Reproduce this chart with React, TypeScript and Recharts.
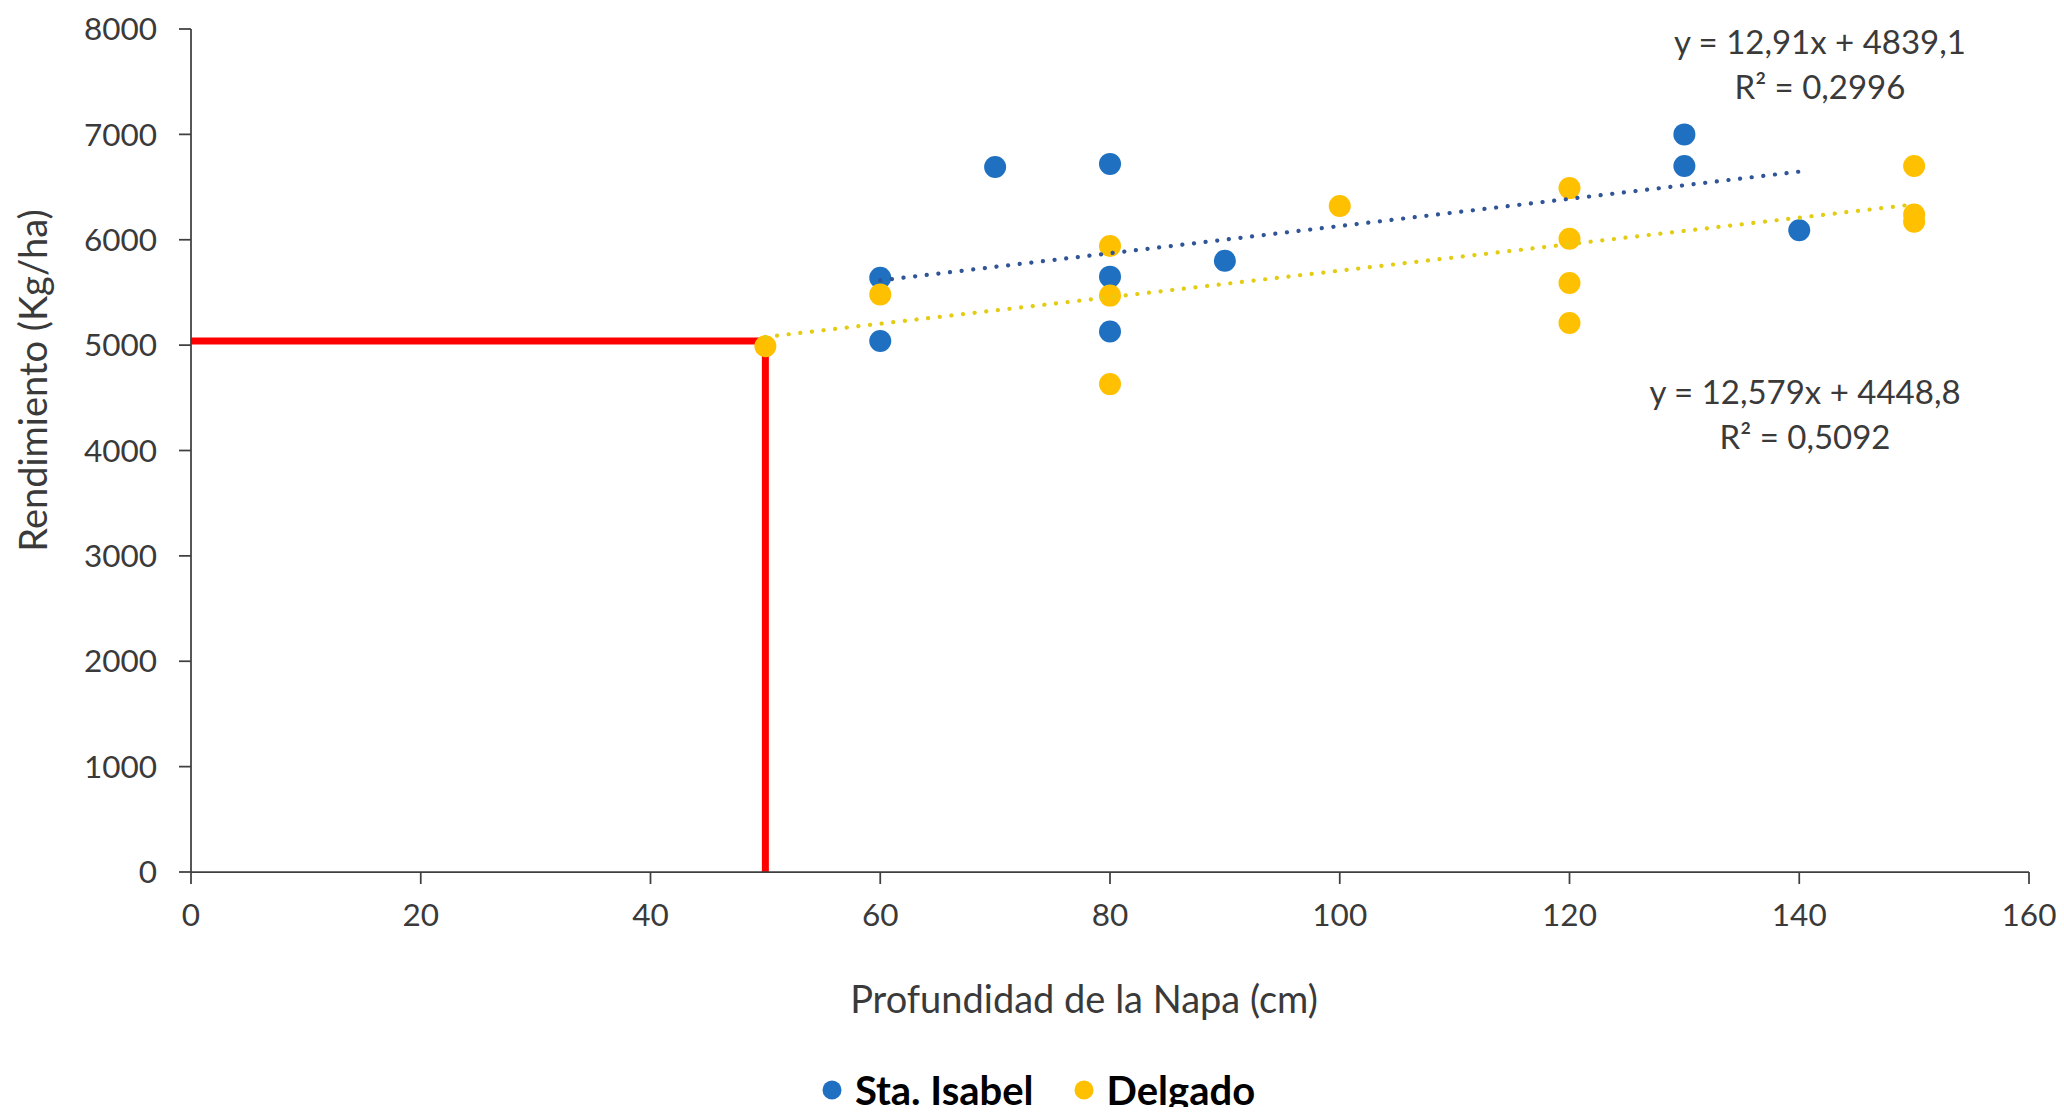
import React from "react";
import {
  ScatterChart,
  Scatter,
  XAxis,
  YAxis,
  ReferenceLine,
  ReferenceDot,
  Legend,
} from "recharts";

// Profundidad de la napa (cm) vs rendimiento (kg/ha), por sitio
const isabelDepth = [60, 60, 70, 80, 80, 80, 90, 130, 130, 140];
const isabelYield = [5640, 5040, 6690, 6720, 5650, 5130, 5800, 7000, 6700, 6090];

const delgadoDepth = [50, 60, 80, 80, 80, 100, 120, 120, 120, 120, 150, 150, 150];
const delgadoYield = [4990, 5480, 5940, 5470, 4630, 6320, 6490, 6010, 5590, 5210, 6700, 6240, 6170];

// tendencias lineales (pendiente, ordenada, R²) y su rango en x
const isabelTrend = { slope: 12.91, intercept: 4839.1, r2: 0.2996, from: 60, to: 140 };
const delgadoTrend = { slope: 12.579, intercept: 4448.8, r2: 0.5092, from: 50, to: 150 };

// lectura marcada en rojo: napa a 50 cm
const markDepth = 50;
const markYield = 5040;

const xTicks = [0, 20, 40, 60, 80, 100, 120, 140, 160];
const yTicks = [0, 1000, 2000, 3000, 4000, 5000, 6000, 7000, 8000];

const seriesNames = ["Sta. Isabel", "Delgado"];

const BLUE = "#1F70C1";
const GOLD = "#FFC000";
const FONT = "Lato, 'Open Sans', sans-serif";
const INK = "#3a3a3a";

const toPoints = (xs: number[], ys: number[]) => xs.map((x, i) => ({ x, y: ys[i] }));

const trendPoints = (t: typeof isabelTrend) => [
  { x: t.from, y: t.slope * t.from + t.intercept },
  { x: t.to, y: t.slope * t.to + t.intercept },
];

const fmt = (n: number) => String(n).replace(".", ",");
const trendLines = (t: typeof isabelTrend) => [
  `y = ${fmt(t.slope)}x + ${fmt(t.intercept)}`,
  `R² = ${fmt(t.r2)}`,
];

const dot = (color: string) => (p: any) => <circle cx={p.cx} cy={p.cy} r={11} fill={color} />;

const TrendNote = ({ viewBox, lines }: any) => {
  const cx = viewBox.x + viewBox.width / 2;
  const cy = viewBox.y + viewBox.height / 2;
  return (
    <text textAnchor="middle" fill={INK} fontFamily={FONT} fontSize={33}>
      {lines.map((l: string, i: number) => (
        <tspan key={i} x={cx} y={cy + (i - 0.5) * 45 - 1} dominantBaseline="central">
          {l}
        </tspan>
      ))}
    </text>
  );
};

const YTitle = ({ viewBox }: any) => {
  const x = viewBox.x + 24;
  const y = viewBox.y + viewBox.height / 2 - 70;
  return (
    <text
      x={x}
      y={y}
      transform={`rotate(-90 ${x} ${y})`}
      textAnchor="middle"
      dominantBaseline="central"
      fill={INK}
      fontFamily={FONT}
      fontSize={38}
    >
      Rendimiento (Kg/ha)
    </text>
  );
};

const XTitle = ({ viewBox }: any) => {
  const x = viewBox.x + viewBox.width / 2 - 26;
  const y = viewBox.y + 126;
  return (
    <text x={x} y={y} textAnchor="middle" dominantBaseline="central" fill={INK} fontFamily={FONT} fontSize={38}>
      Profundidad de la Napa (cm)
    </text>
  );
};

const LegendContent = ({ payload }: any) => {
  const items = seriesNames
    .map((n) => (payload || []).find((p: any) => p.value === n))
    .filter(Boolean);
  return (
    <div
      style={{
        display: "flex",
        justifyContent: "center",
        alignItems: "center",
        height: 34,
        paddingLeft: 40,
        fontFamily: FONT,
        fontWeight: 700,
        fontSize: 40,
        color: "#000",
      }}
    >
      {items.map((p: any, i: number) => (
        <span key={i} style={{ display: "flex", alignItems: "center", marginLeft: i ? 40 : 0 }}>
          <svg width={20} height={20}>
            <circle cx={10} cy={10} r={9.5} fill={p.color} />
          </svg>
          <span style={{ marginLeft: 13 }}>{p.value}</span>
        </span>
      ))}
    </div>
  );
};

const axisLine = { stroke: "#3f3f3f", strokeWidth: 1.75 };
const tickStyle = { fill: INK, fontFamily: FONT, fontSize: 31.5 };

export default function App() {
  return (
    <div style={{ fontFamily: FONT }}>
      <ScatterChart width={2048} height={1099} margin={{ top: 21, right: 27, left: 0, bottom: 0 }}>
        <XAxis
          type="number"
          dataKey="x"
          domain={[0, 160]}
          ticks={xTicks}
          tickSize={12}
          tickMargin={20}
          height={201}
          axisLine={axisLine}
          tickLine={axisLine}
          tick={tickStyle}
          label={<XTitle />}
        />
        <YAxis
          type="number"
          dataKey="y"
          domain={[0, 8000]}
          ticks={yTicks}
          tickSize={12}
          tickMargin={22}
          width={183}
          axisLine={axisLine}
          tickLine={axisLine}
          tick={tickStyle}
          label={<YTitle />}
        />
        <Legend verticalAlign="bottom" height={34} content={<LegendContent />} />

        <Scatter
          name="Sta. Isabel"
          data={toPoints(isabelDepth, isabelYield)}
          fill={BLUE}
          shape={dot(BLUE)}
          isAnimationActive={false}
        />
        <Scatter
          name="Delgado"
          data={toPoints(delgadoDepth, delgadoYield)}
          fill={GOLD}
          shape={dot(GOLD)}
          isAnimationActive={false}
        />

        <Scatter
          data={trendPoints(isabelTrend)}
          legendType="none"
          shape={() => <g />}
          line={{ stroke: "#2F5597", strokeWidth: 4.2, strokeDasharray: "0.1 11.6", strokeLinecap: "round" }}
          isAnimationActive={false}
        />
        <Scatter
          data={trendPoints(delgadoTrend)}
          legendType="none"
          shape={() => <g />}
          line={{ stroke: "#E3CC12", strokeWidth: 4.2, strokeDasharray: "0.1 11.6", strokeLinecap: "round" }}
          isAnimationActive={false}
        />

        <ReferenceLine
          segment={[{ x: 0, y: markYield }, { x: markDepth, y: markYield }]}
          stroke="#FF0000"
          strokeWidth={7}
          ifOverflow="visible"
        />
        <ReferenceLine
          segment={[{ x: markDepth, y: 0 }, { x: markDepth, y: markYield }]}
          stroke="#FF0000"
          strokeWidth={7}
          ifOverflow="visible"
        />

        <ReferenceDot
          x={141.8}
          y={7663}
          r={0}
          fill="none"
          stroke="none"
          ifOverflow="visible"
          label={<TrendNote lines={trendLines(isabelTrend)} />}
        />
        <ReferenceDot
          x={140.5}
          y={4346}
          r={0}
          fill="none"
          stroke="none"
          ifOverflow="visible"
          label={<TrendNote lines={trendLines(delgadoTrend)} />}
        />
      </ScatterChart>
    </div>
  );
}
